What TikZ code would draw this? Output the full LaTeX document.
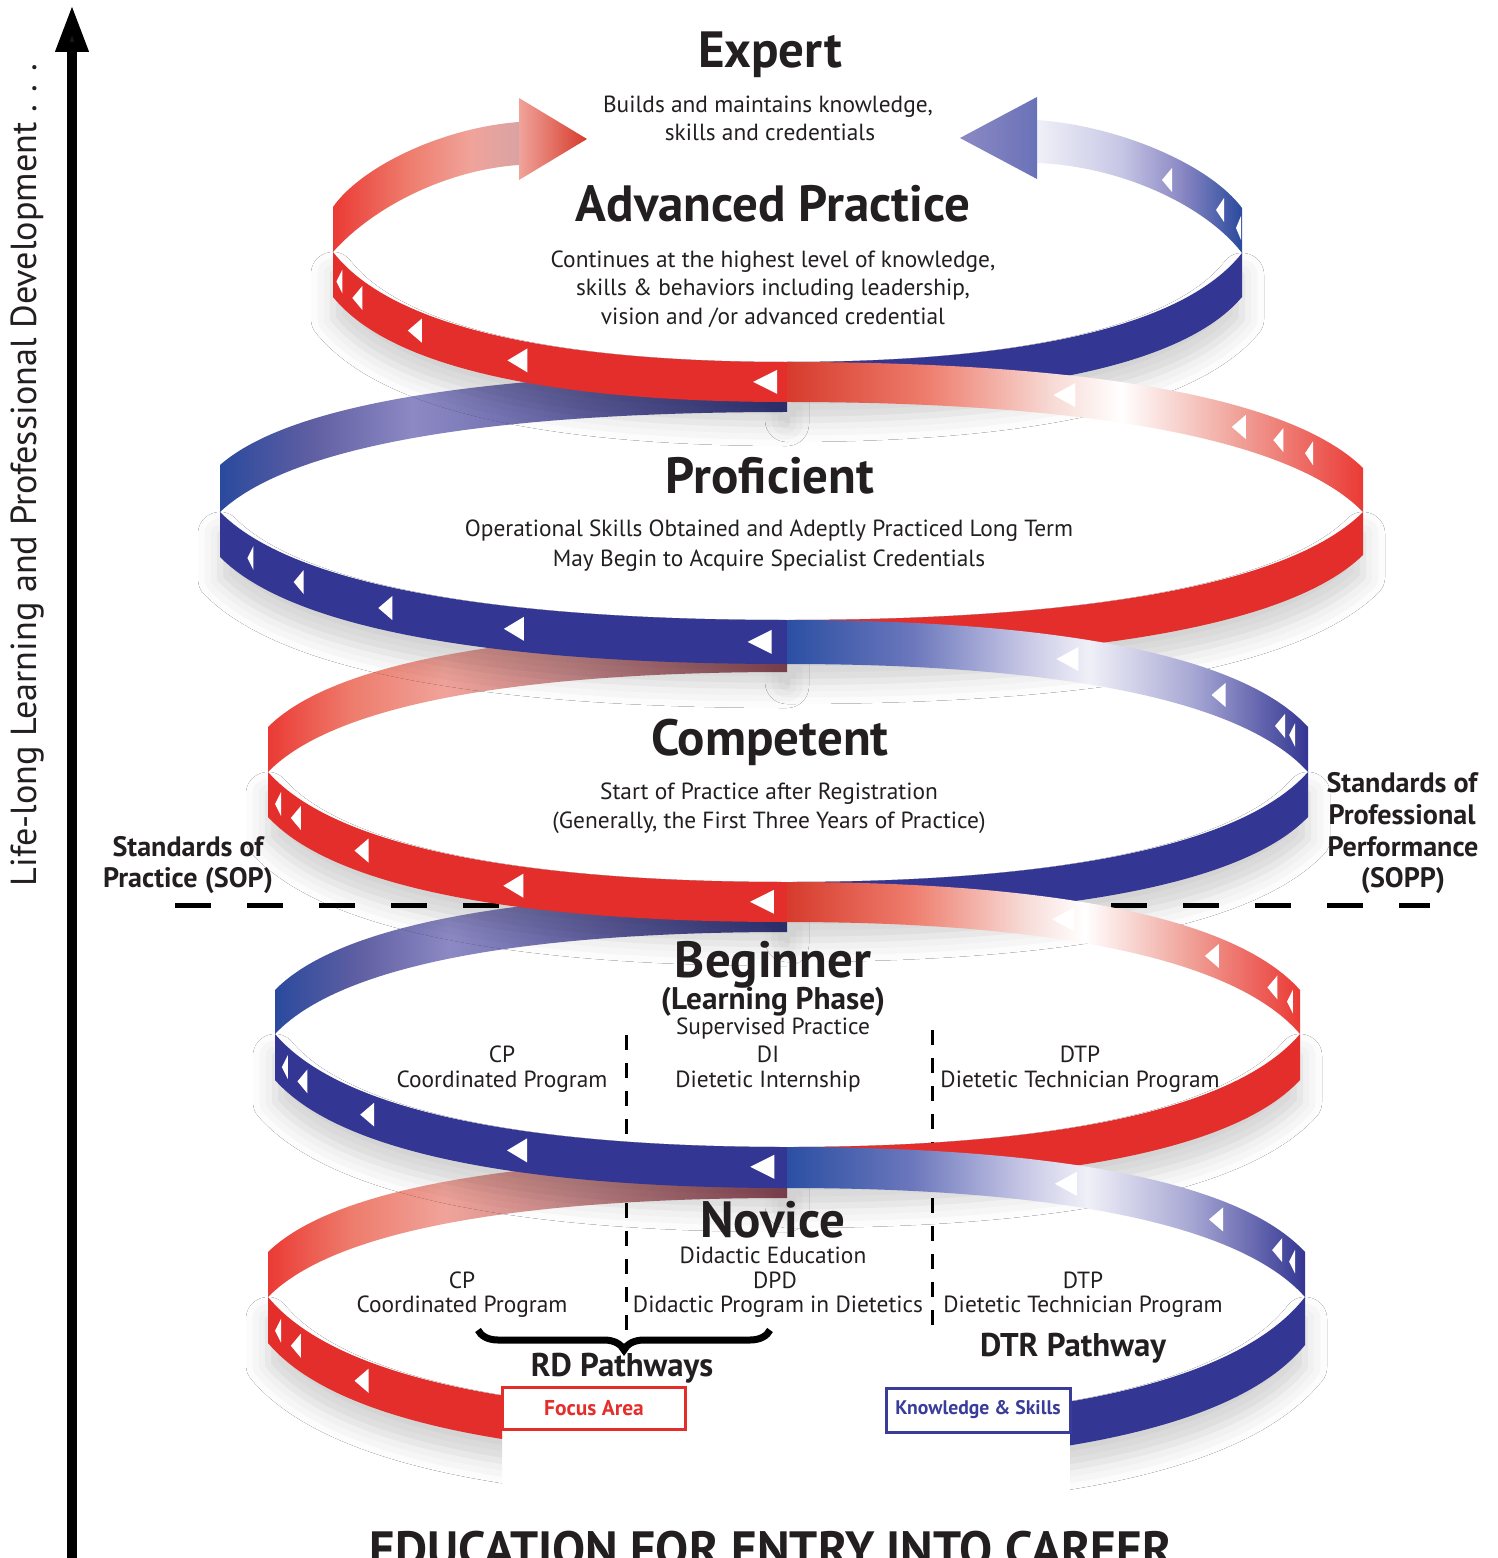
\documentclass[tikz,border=0pt]{standalone}
\usepackage{fontspec}
\setmainfont{PT Sans}
\usetikzlibrary{arrows.meta,decorations.pathreplacing,shadows.blur}

\definecolor{ink}{HTML}{231F20}
\definecolor{ribred}{HTML}{E32E2B}
\definecolor{ribblue}{HTML}{343693}
\definecolor{redside}{HTML}{EB3A35}
\definecolor{redcore}{HTML}{D63B2C}
\definecolor{redmid}{HTML}{EE7C6C}
\definecolor{redpale}{HTML}{F7DAD5}
\definecolor{redlight}{HTML}{F0A39A}
\definecolor{redmauve}{HTML}{C98A8C}
\definecolor{redrose}{HTML}{D9A3A3}
\definecolor{redshade}{HTML}{8F4B5A}
\definecolor{blueside}{HTML}{2A4A9E}
\definecolor{bluecore}{HTML}{2B4FA3}
\definecolor{bluemid}{HTML}{6B77BC}
\definecolor{bluepale}{HTML}{C8C8E6}
\definecolor{bluewhite}{HTML}{F0F0F8}
\definecolor{bluelight}{HTML}{A7A7D4}
\definecolor{bluelav}{HTML}{8C89C4}
\definecolor{bluedusk}{HTML}{5F5EA2}
\definecolor{blueshade}{HTML}{33387F}
\definecolor{bluehead}{HTML}{6A72B8}
\definecolor{boxblue}{HTML}{3A3C9A}

% ribbon gradients (side -> centre and centre -> side)
\pgfdeclarehorizontalshading{redbackR}{100bp}{color(0bp)=(redcore); color(25bp)=(redcore); color(37bp)=(redmid); color(48bp)=(redpale); color(54bp)=(white); color(64bp)=(redlight); color(75bp)=(redside); color(100bp)=(redside)}
\pgfdeclarehorizontalshading{bluebackR}{100bp}{color(0bp)=(bluecore); color(25bp)=(bluecore); color(37bp)=(bluemid); color(48bp)=(bluepale); color(54bp)=(bluewhite); color(64bp)=(bluelight); color(75bp)=(ribblue); color(100bp)=(ribblue)}
\pgfdeclarehorizontalshading{redbackL}{100bp}{color(0bp)=(redside); color(25bp)=(redside); color(33bp)=(redmid); color(42bp)=(redlight); color(55bp)=(redmauve); color(75bp)=(redshade); color(100bp)=(redshade)}
\pgfdeclarehorizontalshading{bluebackL}{100bp}{color(0bp)=(blueside); color(25bp)=(blueside); color(33bp)=(bluedusk); color(42bp)=(bluelav); color(58bp)=(bluedusk); color(75bp)=(blueshade); color(100bp)=(blueshade)}
\pgfdeclarehorizontalshading{redtop}{100bp}{color(0bp)=(redside); color(25bp)=(redside); color(45bp)=(redmid); color(62bp)=(redlight); color(75bp)=(redrose); color(100bp)=(redrose)}
\pgfdeclarehorizontalshading{redtip}{100bp}{color(0bp)=(redlight); color(25bp)=(redlight); color(75bp)=(redcore); color(100bp)=(redcore)}
\pgfdeclarehorizontalshading{bluetop}{100bp}{color(0bp)=(bluewhite); color(25bp)=(bluewhite); color(45bp)=(bluepale); color(60bp)=(bluelav); color(75bp)=(blueside); color(100bp)=(blueside)}
\pgfdeclarehorizontalshading{bluetip}{100bp}{color(0bp)=(bluelav); color(25bp)=(bluelav); color(75bp)=(bluehead); color(100bp)=(bluehead)}

% half turn of the ribbon: side x, side y1, side y2, centre x, centre y1, centre y2
\newcommand{\ribbonpart}[7][]{%
  \path[#1] (#2,#3) .. controls ({#2+0.15*(#5-#2)},{#3+0.8*(#6-#3)}) and ({#5-0.4*(#5-#2)},#6) .. (#5,#6)
    -- (#5,#7) .. controls ({#5-0.4*(#5-#2)},#7) and ({#2+0.15*(#5-#2)},{#4+0.8*(#7-#4)}) .. (#2,#4) -- cycle;}
% white direction mark on a ribbon part: side x, side y, centre x, centre y, t, width
\newcommand{\wmark}[6]{%
  \pgfmathsetmacro{\mx}{(1-#5)^3*#1+3*(1-#5)^2*#5*(#1+0.15*(#3-#1))+3*(1-#5)*#5^2*(#3-0.4*(#3-#1))+#5^3*#3}%
  \pgfmathsetmacro{\my}{(1-#5)^3*#2+3*(1-#5)^2*#5*(#2+0.8*(#4-#2))+3*(1-#5)*#5^2*#4+#5^3*#4}%
  \fill[white] ({\mx-#6/2},\my) -- ++(#6,-12) -- ++(0,24) -- cycle;}
\newcommand{\wtri}[3]{\fill[white] (#1,#2) -- ++(#3,-12) -- ++(0,24) -- cycle;}

\begin{document}
\begin{tikzpicture}[
    x=0.1mm, y=-0.1mm,
    every node/.style={text=ink, inner sep=0pt, anchor=base},
    title/.style={font=\bfseries\fontsize{14.5}{16}\selectfont},
    body/.style={font=\fontsize{6.65}{8}\selectfont},
    std/.style={font=\bfseries\fontsize{8}{9.5}\selectfont},
    phase/.style={font=\bfseries\fontsize{8.9}{10}\selectfont},
    pathway/.style={font=\bfseries\fontsize{9.35}{11}\selectfont},
    tagbox/.style={draw, line width=0.3mm, fill=white, anchor=center, minimum width=18.3mm, minimum height=4.2mm},
    lift/.style={blur shadow={shadow xshift=0mm, shadow yshift=-2.2mm, shadow blur radius=2.2mm, shadow opacity=18}}
]
    \useasboundingbox[fill=white] (0,0) rectangle (1497,1558);

    % guide lines behind the ribbon
    \draw[line width=0.5mm, dash pattern=on 3.6mm off 3.6mm] (175,905) -- (1430,905);
    \draw[line width=0.3mm, dash pattern=on 1.5mm off 1.3mm] (626,1035) -- (626,1335);
    \draw[line width=0.3mm, dash pattern=on 1.5mm off 1.3mm] (932,1030) -- (932,1335);

    % top loop with the two arrows
    \shade[shading=redtop] (333,207) .. controls (360,168) and (440,128) .. (519,122) -- (519,165) .. controls (445,170) and (372,208) .. (333,252) -- cycle;
    \shade[shading=redtip] (519,98) -- (587,139) -- (519,180) -- cycle;
    \shade[shading=bluetop] (1037,120) .. controls (1120,126) and (1210,165) .. (1242,208) -- (1242,253) .. controls (1205,205) and (1120,166) .. (1037,163) -- cycle;
    \shade[shading=bluetip] (1037,97) -- (960,138) -- (1037,179) -- cycle;
    \wtri{1162}{180}{10} \wtri{1216}{210}{8} \wtri{1236}{228}{5}

    % Advanced Practice -> Proficient
    \ribbonpart[shade, shading=bluebackL]{220}{465}{512}{787}{372}{412}
    \ribbonpart[fill=ribblue, lift]{1242}{253}{297}{787}{362}{398}
    \ribbonpart[fill=ribred, lift]{333}{252}{297}{787}{362}{402}
    \ribbonpart[shade, shading=redbackR]{1363}{468}{512}{787}{362}{402}
    \foreach \t/\w in {0.03/6, 0.1/10, 0.27/14, 0.5/20, 0.96/24} {\wmark{333}{274}{787}{382}{\t}{\w}}
    \foreach \t/\w in {0.16/8, 0.23/10, 0.31/14, 0.6/22} {\wmark{1363}{490}{787}{382}{\t}{\w}}

    % Proficient -> Competent
    \ribbonpart[shade, shading=redbackL]{268}{727}{772}{787}{630}{672}
    \ribbonpart[fill=ribred, lift]{1363}{512}{555}{787}{620}{660}
    \ribbonpart[fill=ribblue, lift]{220}{512}{557}{787}{620}{664}
    \ribbonpart[shade, shading=bluebackR]{1308}{727}{772}{787}{620}{664}
    \foreach \t/\w in {0.1/6, 0.22/10, 0.39/14, 0.6/20, 0.96/24} {\wmark{220}{534}{787}{642}{\t}{\w}}
    \foreach \t/\w in {0.06/6, 0.1/10, 0.26/14, 0.55/22} {\wmark{1308}{750}{787}{642}{\t}{\w}}

    % Competent -> Beginner
    \ribbonpart[shade, shading=bluebackL]{275}{990}{1034}{787}{892}{932}
    \ribbonpart[fill=ribblue, lift]{1308}{772}{817}{787}{882}{918}
    \ribbonpart[fill=ribred, lift]{268}{772}{817}{787}{882}{922}
    \ribbonpart[shade, shading=redbackR]{1300}{990}{1034}{787}{882}{922}
    \foreach \t/\w in {0.04/6, 0.1/10, 0.27/14, 0.56/20, 0.96/24} {\wmark{268}{794}{787}{902}{\t}{\w}}
    \foreach \t/\w in {0.04/6, 0.1/10, 0.26/14, 0.55/22} {\wmark{1300}{1012}{787}{902}{\t}{\w}}

    % Beginner -> Novice
    \ribbonpart[shade, shading=redbackL]{268}{1252}{1297}{787}{1157}{1198}
    \ribbonpart[fill=ribred, lift]{1300}{1034}{1080}{787}{1147}{1184}
    \ribbonpart[fill=ribblue, lift]{275}{1034}{1080}{787}{1147}{1188}
    \ribbonpart[shade, shading=bluebackR]{1305}{1252}{1297}{787}{1147}{1188}
    \foreach \t/\w in {0.04/6, 0.1/10, 0.27/14, 0.56/20, 0.96/24} {\wmark{275}{1057}{787}{1167}{\t}{\w}}
    \foreach \t/\w in {0.05/6, 0.1/10, 0.26/14, 0.55/22} {\wmark{1305}{1274}{787}{1167}{\t}{\w}}

    % Novice front, cut by the two tags
    \begin{scope}
        \clip (0,0) rectangle (502,1558);
        \ribbonpart[fill=ribred, lift]{268}{1297}{1343}{787}{1415}{1458}
    \end{scope}
    \begin{scope}
        \clip (1070,0) rectangle (1497,1558);
        \ribbonpart[fill=ribblue, lift]{1305}{1297}{1345}{787}{1422}{1465}
    \end{scope}
    \foreach \t/\w in {0.04/6, 0.1/10, 0.27/14} {\wmark{268}{1320}{787}{1436}{\t}{\w}}

    % life-long axis
    \draw[line width=1mm, -{Triangle[length=4.7mm, width=3.1mm]}] (72,1560) -- (72,5);
    \node[rotate=90, font=\fontsize{10.3}{12}\selectfont] (lifelong) at (37,475) {Life-long Learning and Professional Development . . .};

    % Nodes
    \node[title] (expert) at (770,68) {Expert};
    \node[body] (expertA) at (768,113) {Builds and maintains knowledge,};
    \node[body] (expertB) at (770,141) {skills and credentials};

    \node[title] (advanced) at (773,222) {Advanced Practice};
    \node[body] (advancedA) at (773,268) {Continues at the highest level of knowledge,};
    \node[body] (advancedB) at (773,296) {skills \& behaviors including leadership,};
    \node[body] (advancedC) at (773,325) {vision and /or advanced credential};

    \node[title] (proficient) at (770,494) {Proficient};
    \node[body] (proficientA) at (769,537) {Operational Skills Obtained and Adeptly Practiced Long Term};
    \node[body] (proficientB) at (769,566) {May Begin to Acquire Specialist Credentials};

    \node[title] (competent) at (770,755) {Competent};
    \node[body] (competentA) at (769,799) {Start of Practice after Registration};
    \node[body] (competentB) at (769,828) {(Generally, the First Three Years of Practice)};

    \node[std] (sopA) at (188,856) {Standards of};
    \node[std] (sopB) at (188,887) {Practice (SOP)};
    \node[std] (soppA) at (1402,792) {Standards of};
    \node[std] (soppB) at (1402,824) {Professional};
    \node[std] (soppC) at (1403,856) {Performance};
    \node[std] (soppD) at (1403,887) {(SOPP)};

    \node[title] (beginner) at (773,977) {Beginner};
    \node[phase] (beginnerA) at (773,1009) {(Learning Phase)};
    \node[body] (beginnerB) at (773,1034) {Supervised Practice};
    \node[body] (cpA) at (502,1062) {CP};
    \node[body] (cpB) at (502,1087) {Coordinated Program};
    \node[body] (diA) at (768,1062) {DI};
    \node[body] (diB) at (768,1087) {Dietetic Internship};
    \node[body] (dtpA) at (1080,1062) {DTP};
    \node[body] (dtpB) at (1080,1087) {Dietetic Technician Program};

    \node[title] (novice) at (773,1237) {Novice};
    \node[body] (noviceA) at (773,1263) {Didactic Education};
    \node[body] (ncpA) at (462,1288) {CP};
    \node[body] (ncpB) at (462,1312) {Coordinated Program};
    \node[body] (dpdA) at (775,1288) {DPD};
    \node[body] (dpdB) at (778,1312) {Didactic Program in Dietetics};
    \node[body] (ndtpA) at (1083,1288) {DTP};
    \node[body] (ndtpB) at (1083,1312) {Dietetic Technician Program};

    \draw[line width=0.7mm, decorate, decoration={brace, mirror, amplitude=2mm}] (478,1330) -- (770,1330);
    \node[pathway] (rd) at (622,1376) {RD Pathways};
    \node[pathway] (dtr) at (1073,1356) {DTR Pathway};

    \node[tagbox, draw=ribred, text=ribred, font=\bfseries\fontsize{6.1}{7}\selectfont] (focus) at (594,1408) {Focus Area};
    \node[tagbox, draw=boxblue, text=boxblue, minimum width=18.4mm, minimum height=4.4mm, font=\bfseries\fontsize{5.6}{7}\selectfont] (knowledge) at (978,1410) {Knowledge \& Skills};

    \node[font=\bfseries\fontsize{14.1}{16}\selectfont] (career) at (771,1566) {EDUCATION FOR ENTRY INTO CAREER};
\end{tikzpicture}
\end{document}
